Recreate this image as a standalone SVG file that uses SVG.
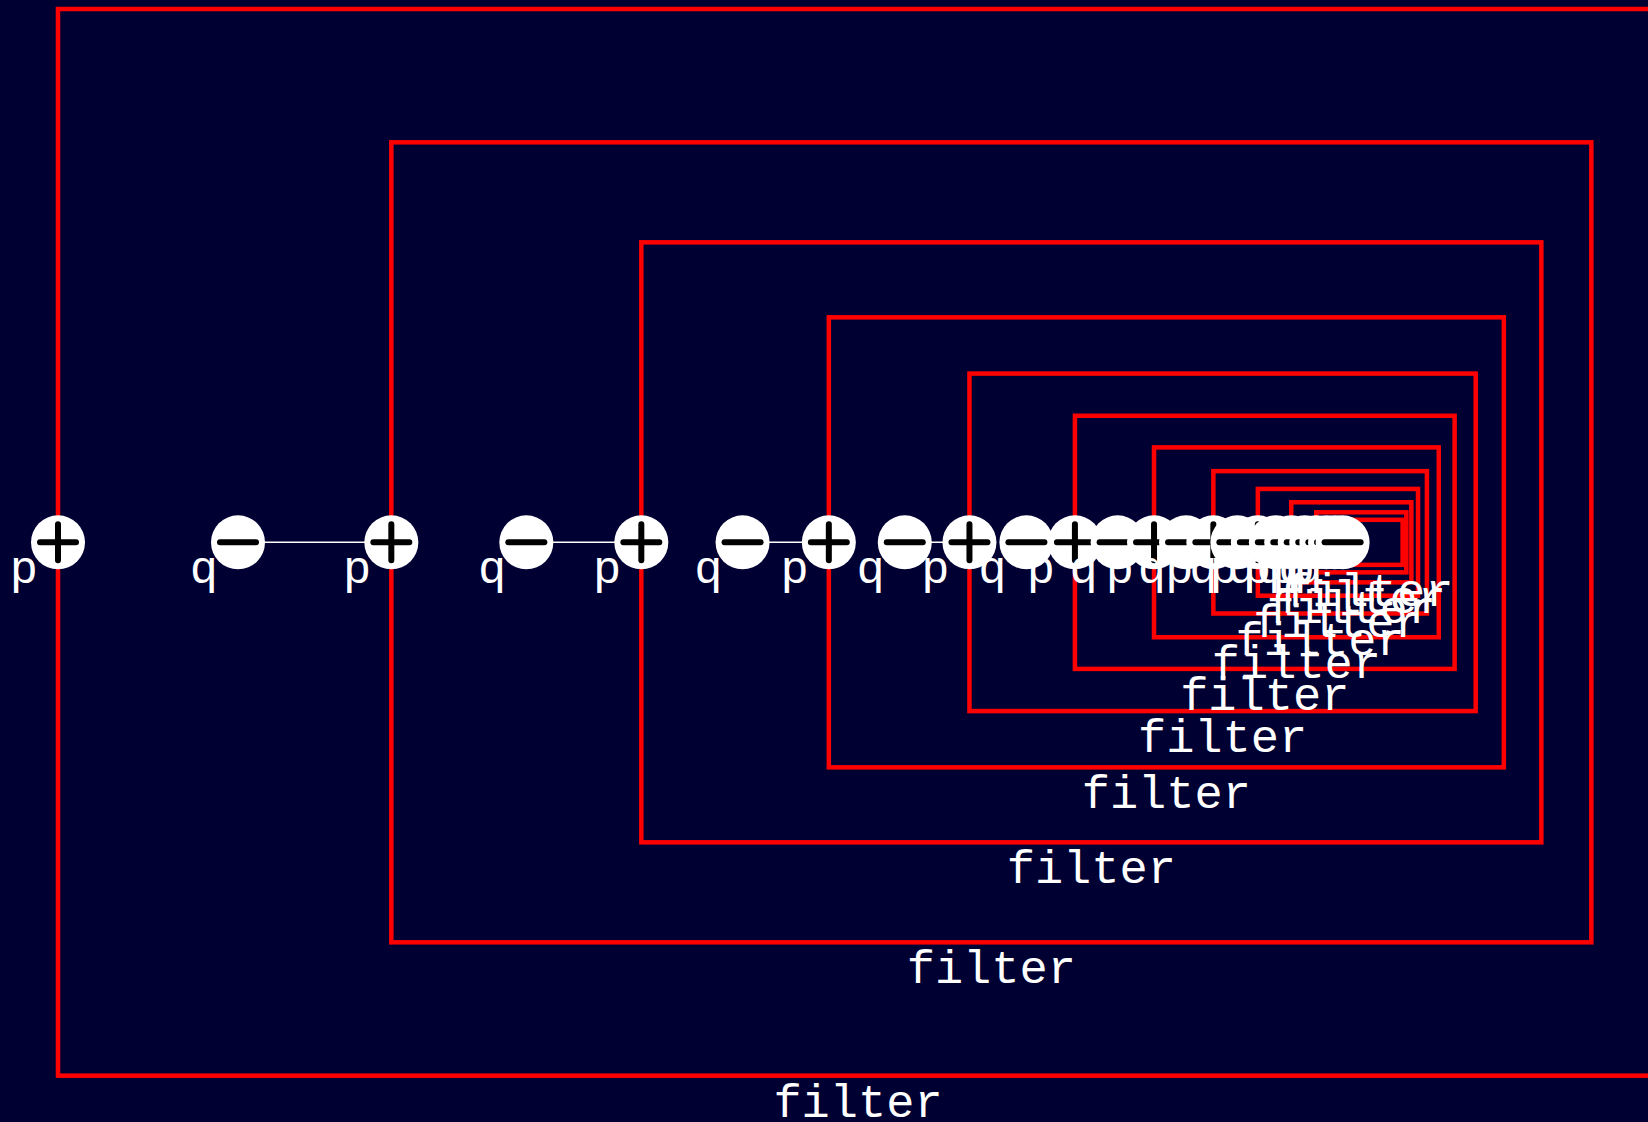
<svg xmlns="http://www.w3.org/2000/svg" xmlns:xlink="http://www.w3.org/1999/xlink" width="1648" height="1122" viewBox="0 0 1648 1122">
<style>
.box{fill:none;stroke:#ff0000;stroke-width:4.5}
.edge{stroke:#ffffff;stroke-width:1.5;fill:none}
.dot{fill:#ffffff}
.sym{stroke:#000000;stroke-width:6;stroke-linecap:round;fill:none}
.lbl{font-family:"Liberation Mono",monospace;font-size:47px;fill:#ffffff}
.nl{text-anchor:end}
.fl{text-anchor:middle}
</style>
<defs>
<g id="plus"><circle class="dot" r="27"/><path class="sym" d="M-18,0H18M0,-18V18"/></g>
<g id="minus"><circle class="dot" r="27"/><path class="sym" d="M-18,0H18"/></g>
</defs>
<rect width="1648" height="1122" fill="#000033"/>
<g id="clusters">
<g id="f0"><rect class="box" x="58" y="9" width="1600" height="1066.67"/></g>
<g id="f1"><rect class="box" x="391.33" y="142.33" width="1200" height="800"/></g>
<g id="f2"><rect class="box" x="641.33" y="242.33" width="900" height="600"/></g>
<g id="f3"><rect class="box" x="828.83" y="317.33" width="675" height="450"/></g>
<g id="f4"><rect class="box" x="969.46" y="373.58" width="506.25" height="337.5"/></g>
<g id="f5"><rect class="box" x="1074.92" y="415.77" width="379.69" height="253.13"/></g>
<g id="f6"><rect class="box" x="1154.03" y="447.41" width="284.77" height="189.84"/></g>
<g id="f7"><rect class="box" x="1213.35" y="471.14" width="213.57" height="142.38"/></g>
<g id="f8"><rect class="box" x="1257.85" y="488.94" width="160.18" height="106.79"/></g>
<g id="f9"><rect class="box" x="1291.22" y="502.28" width="120.14" height="80.09"/></g>
<g id="f10"><rect class="box" x="1316.25" y="512.30" width="90.10" height="60.07"/></g>
<g id="f11"><rect class="box" x="1335.02" y="519.80" width="67.58" height="45.05"/></g>
</g>
<g id="connectors">
<line class="edge" x1="238" y1="542.33" x2="391.33" y2="542.33"/>
<line class="edge" x1="526.33" y1="542.33" x2="641.33" y2="542.33"/>
<line class="edge" x1="742.58" y1="542.33" x2="828.83" y2="542.33"/>
<line class="edge" x1="904.77" y1="542.33" x2="969.46" y2="542.33"/>
<line class="edge" x1="1026.41" y1="542.33" x2="1074.92" y2="542.33"/>
<line class="edge" x1="1117.64" y1="542.33" x2="1154.03" y2="542.33"/>
<line class="edge" x1="1186.06" y1="542.33" x2="1213.35" y2="542.33"/>
<line class="edge" x1="1237.38" y1="542.33" x2="1257.85" y2="542.33"/>
<line class="edge" x1="1275.87" y1="542.33" x2="1291.22" y2="542.33"/>
<line class="edge" x1="1304.73" y1="542.33" x2="1316.25" y2="542.33"/>
<line class="edge" x1="1326.38" y1="542.33" x2="1335.02" y2="542.33"/>
</g>
<g id="nodes">
<g id="p0" transform="translate(58,542.33)"><use xlink:href="#plus"/></g>
<g id="q0" transform="translate(238,542.33)"><use xlink:href="#minus"/></g>
<g id="p1" transform="translate(391.33,542.33)"><use xlink:href="#plus"/></g>
<g id="q1" transform="translate(526.33,542.33)"><use xlink:href="#minus"/></g>
<g id="p2" transform="translate(641.33,542.33)"><use xlink:href="#plus"/></g>
<g id="q2" transform="translate(742.58,542.33)"><use xlink:href="#minus"/></g>
<g id="p3" transform="translate(828.83,542.33)"><use xlink:href="#plus"/></g>
<g id="q3" transform="translate(904.77,542.33)"><use xlink:href="#minus"/></g>
<g id="p4" transform="translate(969.46,542.33)"><use xlink:href="#plus"/></g>
<g id="q4" transform="translate(1026.41,542.33)"><use xlink:href="#minus"/></g>
<g id="p5" transform="translate(1074.92,542.33)"><use xlink:href="#plus"/></g>
<g id="q5" transform="translate(1117.64,542.33)"><use xlink:href="#minus"/></g>
<g id="p6" transform="translate(1154.03,542.33)"><use xlink:href="#plus"/></g>
<g id="q6" transform="translate(1186.06,542.33)"><use xlink:href="#minus"/></g>
<g id="p7" transform="translate(1213.35,542.33)"><use xlink:href="#plus"/></g>
<g id="q7" transform="translate(1237.38,542.33)"><use xlink:href="#minus"/></g>
<g id="p8" transform="translate(1257.85,542.33)"><use xlink:href="#plus"/></g>
<g id="q8" transform="translate(1275.87,542.33)"><use xlink:href="#minus"/></g>
<g id="p9" transform="translate(1291.22,542.33)"><use xlink:href="#plus"/></g>
<g id="q9" transform="translate(1304.73,542.33)"><use xlink:href="#minus"/></g>
<g id="p10" transform="translate(1316.25,542.33)"><use xlink:href="#plus"/></g>
<g id="q10" transform="translate(1326.38,542.33)"><use xlink:href="#minus"/></g>
<g id="p11" transform="translate(1335.02,542.33)"><use xlink:href="#plus"/></g>
<g id="q11" transform="translate(1342.62,542.33)"><use xlink:href="#minus"/></g>
</g>
<g id="labels" class="lbl">
<text class="nl" x="38" y="583.33">p</text>
<text class="nl" x="218" y="583.33">q</text>
<text class="nl" x="371.33" y="583.33">p</text>
<text class="nl" x="506.33" y="583.33">q</text>
<text class="nl" x="621.33" y="583.33">p</text>
<text class="nl" x="722.58" y="583.33">q</text>
<text class="nl" x="808.83" y="583.33">p</text>
<text class="nl" x="884.77" y="583.33">q</text>
<text class="nl" x="949.46" y="583.33">p</text>
<text class="nl" x="1006.41" y="583.33">q</text>
<text class="nl" x="1054.92" y="583.33">p</text>
<text class="nl" x="1097.64" y="583.33">q</text>
<text class="nl" x="1134.03" y="583.33">p</text>
<text class="nl" x="1166.06" y="583.33">q</text>
<text class="nl" x="1193.35" y="583.33">p</text>
<text class="nl" x="1217.38" y="583.33">q</text>
<text class="nl" x="1237.85" y="583.33">p</text>
<text class="nl" x="1255.87" y="583.33">q</text>
<text class="nl" x="1271.22" y="583.33">p</text>
<text class="nl" x="1284.73" y="583.33">q</text>
<text class="nl" x="1296.25" y="583.33">p</text>
<text class="nl" x="1306.38" y="583.33">q</text>
<text class="nl" x="1315.02" y="583.33">p</text>
<text class="nl" x="1322.62" y="583.33">q</text>
<text class="fl" x="858" y="1116.67">filter</text>
<text class="fl" x="991.33" y="983.33">filter</text>
<text class="fl" x="1091.33" y="883.33">filter</text>
<text class="fl" x="1166.33" y="808.33">filter</text>
<text class="fl" x="1222.58" y="752.08">filter</text>
<text class="fl" x="1264.77" y="709.89">filter</text>
<text class="fl" x="1296.41" y="678.25">filter</text>
<text class="fl" x="1320.14" y="654.52">filter</text>
<text class="fl" x="1337.94" y="636.72">filter</text>
<text class="fl" x="1351.28" y="623.38">filter</text>
<text class="fl" x="1361.30" y="613.36">filter</text>
<text class="fl" x="1368.80" y="605.86">filter</text>
</g>
</svg>
